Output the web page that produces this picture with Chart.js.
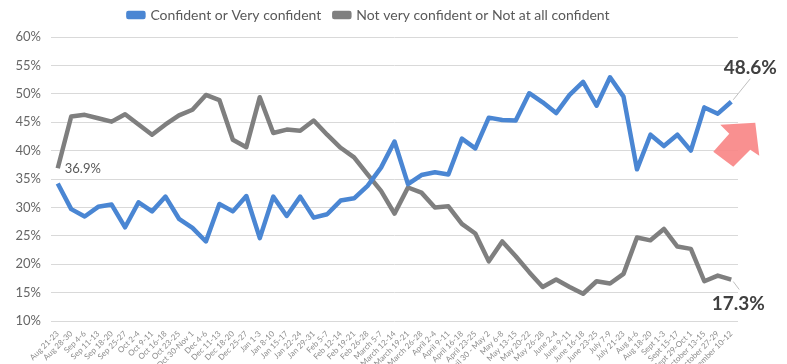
<!DOCTYPE html>
<html>
<head>
<meta charset="utf-8">
<style>
  html, body { margin: 0; padding: 0; background: #ffffff; }
  canvas { display: block; }
</style>
<script src="https://cdn.jsdelivr.net/npm/chart.js@4/dist/chart.umd.min.js"></script>
</head>
<body>
<canvas id="c" width="787" height="364"></canvas>
<script>
// Weekly survey periods
const periods = [
  "Aug 21-23", "Aug 28-30", "Sep 4-6", "Sep 11-13", "Sep 18-20", "Sep 25-27",
  "Oct 2-4", "Oct 9-11", "Oct 16-18", "Oct 23-25", "Oct 30-Nov 1",
  "Dec 4-6", "Dec 11-13", "Dec 18-20", "Dec 25-27",
  "Jan 1-3", "Jan 8-10", "Jan 15-17", "Jan 22-24", "Jan 29-31",
  "Feb 5-7", "Feb 12-14", "Feb 19-21", "Feb 26-28",
  "March 5-7", "March 12-14", "March 19-21", "March 26-28",
  "April 2-4", "April 9-11", "April 16-18", "April 23-25", "April 30 - May 2",
  "May 6-8", "May 13-15", "May 20-22", "May 26-28",
  "June 2-4", "June 9-11", "June 16-18", "June 23-25",
  "July 7-9", "July 21-23", "Aug 4-6", "Aug 18-20",
  "Sept 1-3", "Sept 15-17", "Sept 29-Oct 1",
  "October 13-15", "October 27-29", "November 10-12"
];

// Share of respondents (%)
const confident = [
  34.2, 29.7, 28.4, 30.1, 30.5, 26.5, 30.9, 29.3, 31.9, 28.0, 26.4,
  24.0, 30.6, 29.3, 32.0,
  24.6, 31.9, 28.5, 31.9, 28.2,
  28.8, 31.2, 31.6, 33.8,
  37.0, 41.6, 34.1, 35.7,
  36.2, 35.8, 42.1, 40.4, 45.8,
  45.4, 45.3, 50.1, 48.5,
  46.6, 49.8, 52.1, 47.9,
  52.9, 49.5, 36.7, 42.8,
  40.8, 42.8, 40.0,
  47.6, 46.5, 48.6
];

const notConfident = [
  36.9, 46.0, 46.3, 45.7, 45.1, 46.4, 44.6, 42.8, 44.6, 46.2, 47.2,
  49.8, 48.9, 41.9, 40.6,
  49.4, 43.1, 43.7, 43.5, 45.3,
  42.8, 40.5, 38.8, 35.8,
  32.9, 28.9, 33.5, 32.6,
  30.0, 30.2, 27.1, 25.4, 20.5,
  24.0, 21.4, 18.6, 16.0,
  17.3, 16.0, 14.8, 17.0,
  16.6, 18.3, 24.7, 24.2,
  26.2, 23.1, 22.7,
  17.0, 18.0, 17.3
];

const yTicks = [10, 15, 20, 25, 30, 35, 40, 45, 50, 55, 60];

const FONT = 'Lato, "Open Sans", "DejaVu Sans", sans-serif';
const BLUE = '#4a86d3';
const GREY = '#7f7f7f';

// Keeps the legend tight to the top edge while leaving room below it
const legendSpacing = {
  id: 'legendSpacing',
  afterInit(chart) {
    const legend = chart.legend;
    if (!legend) return;
    const fit = legend.fit;
    legend.fit = function () {
      fit.call(this);
      this.height += 5;
    };
  }
};

// Value callouts, leader lines and the trend arrow
const callouts = {
  id: 'callouts',
  afterDatasetsDraw(chart) {
    const { ctx, scales: { x, y } } = chart;
    const last = periods.length - 1;

    const bx = x.getPixelForValue(last), by = y.getPixelForValue(confident[last]);
    const gx = x.getPixelForValue(last), gy = y.getPixelForValue(notConfident[last]);
    const fx = x.getPixelForValue(0),    fy = y.getPixelForValue(notConfident[0]);

    ctx.save();

    // trend arrow
    ctx.fillStyle = 'rgba(249, 135, 135, 0.92)';
    ctx.beginPath();
    const pts = [[24, 21], [-11, 23], [-2, 32], [-18, 50], [2, 65], [19, 48], [28, 54]];
    pts.forEach(([dx, dy], i) => {
      if (i === 0) ctx.moveTo(bx + dx, by + dy); else ctx.lineTo(bx + dx, by + dy);
    });
    ctx.closePath();
    ctx.fill();

    // leader lines
    ctx.strokeStyle = '#bfbfbf';
    ctx.lineWidth = 1;
    ctx.beginPath();
    ctx.moveTo(bx + 2, by - 2); ctx.lineTo(bx + 19, by - 23);
    ctx.moveTo(gx + 2, gy + 2); ctx.lineTo(gx + 8, gy + 10);
    ctx.stroke();

    // end values
    ctx.fillStyle = '#404040';
    ctx.font = 'bold 19px ' + FONT;
    ctx.textAlign = 'center';
    ctx.textBaseline = 'middle';
    ctx.fillText(confident[last].toFixed(1) + '%', bx + 19, by - 34);
    ctx.fillText(notConfident[last].toFixed(1) + '%', gx + 7, gy + 24);

    // starting value
    ctx.fillStyle = '#595959';
    ctx.font = '13px ' + FONT;
    ctx.textAlign = 'left';
    ctx.fillText(notConfident[0].toFixed(1) + '%', fx + 7, fy + 1);

    ctx.restore();
  }
};

new Chart(document.getElementById('c'), {
  type: 'line',
  data: {
    labels: periods,
    datasets: [
      {
        label: 'Confident or Very confident',
        data: confident,
        borderColor: BLUE,
        backgroundColor: BLUE,
        borderWidth: 4.5,
        pointRadius: 0,
        tension: 0,
        borderJoinStyle: 'round'
      },
      {
        label: 'Not very confident or Not at all confident',
        data: notConfident,
        borderColor: GREY,
        backgroundColor: GREY,
        borderWidth: 4.5,
        pointRadius: 0,
        tension: 0,
        borderJoinStyle: 'round'
      }
    ]
  },
  options: {
    responsive: false,
    devicePixelRatio: 1,
    animation: false,
    layout: { padding: { top: -5, right: 49, bottom: 0, left: 0 } },
    plugins: {
      legend: {
        position: 'top',
        labels: {
          boxWidth: 15,
          boxHeight: 4,
          padding: 13,
          color: '#595959',
          font: { family: FONT, size: 14 }
        }
      },
      tooltip: { enabled: false }
    },
    scales: {
      x: {
        offset: true,
        grid: { display: false },
        border: { display: false },
        ticks: {
          autoSkip: false,
          maxRotation: 45,
          minRotation: 45,
          padding: 0,
          color: '#8c8c8c',
          font: { family: FONT, size: 8 }
        },
        afterFit(scale) { scale.height = 43; }
      },
      y: {
        min: yTicks[0],
        max: yTicks[yTicks.length - 1],
        afterBuildTicks(scale) { scale.ticks = yTicks.map(v => ({ value: v })); },
        grid: { color: '#d9d9d9', lineWidth: 1, drawTicks: false },
        border: { display: false },
        ticks: {
          padding: 10,
          color: '#666666',
          font: { family: FONT, size: 13 },
          callback: v => v + '%'
        },
        afterFit(scale) { scale.width = 51; }
      }
    }
  },
  plugins: [legendSpacing, callouts]
});
</script>
</body>
</html>
